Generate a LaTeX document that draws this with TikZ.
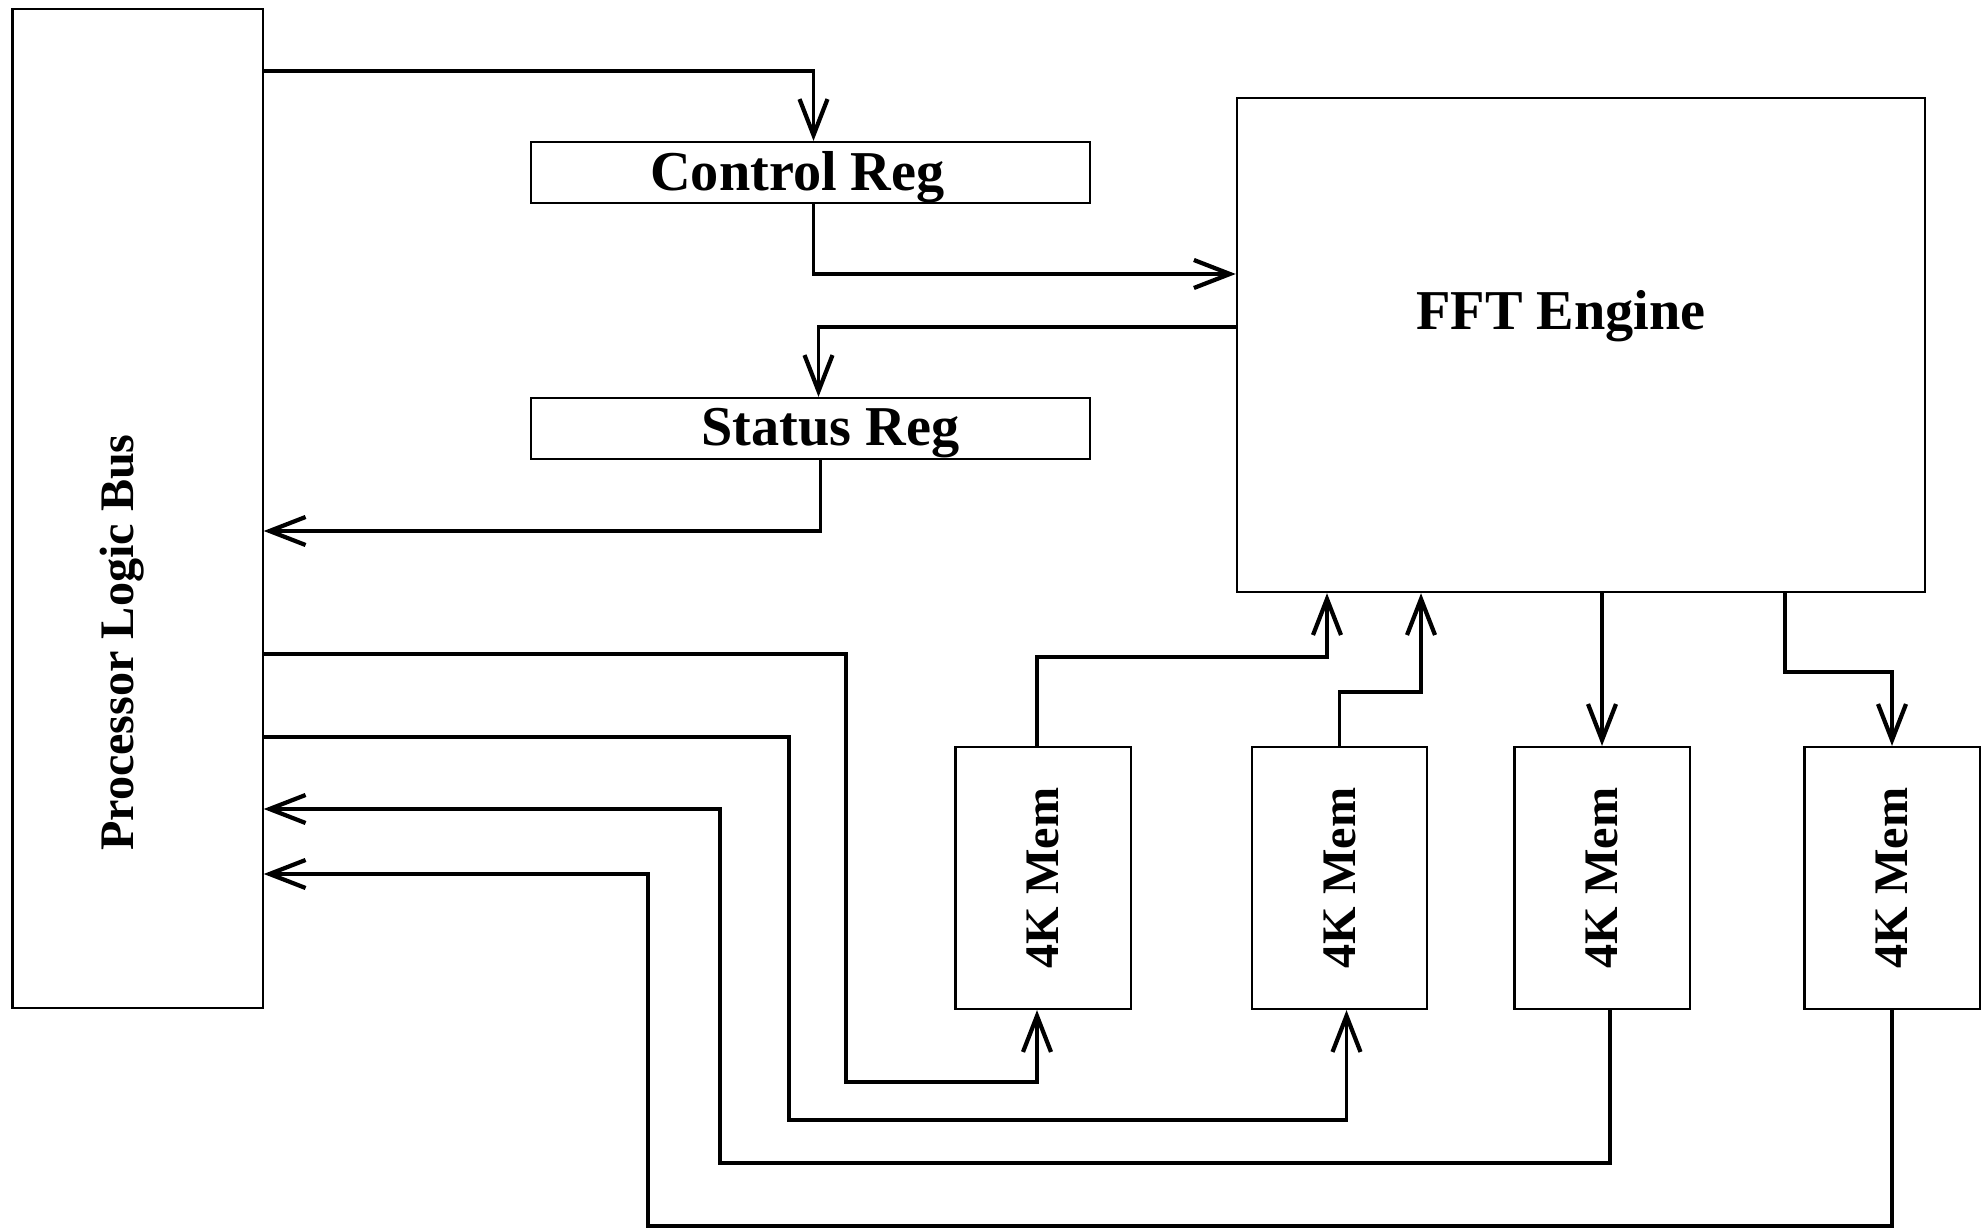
\documentclass[tikz,border=0pt]{standalone}
\usepackage{fontspec}
\setmainfont{Liberation Serif}
\usepackage{tikz}
\usetikzlibrary{arrows.meta}

\begin{document}
\begin{tikzpicture}[x=.01cm,y=-.01cm,
  box/.style={draw,line width=.6pt,inner sep=0pt},
  big/.style={font=\bfseries\fontsize{16}{19}\selectfont},
  small/.style={font=\bfseries\fontsize{13.7}{16}\selectfont},
  link/.style={line width=1.1pt,-{Straight Barb[length=.36cm,width=.28cm,line width=1.2pt]}},
  reg/.style={box,minimum width=5.59cm,minimum height=.61cm},
  mem/.style={box,minimum width=1.75cm,minimum height=2.62cm,label={[rotate=90,small]center:4K Mem}}]
\path[fill=white,use as bounding box] (0,0) rectangle (1988,1231);
\node[box,minimum width=2.5cm,minimum height=9.99cm] (bus) at (137.6,508.5) {};
\node[rotate=90,small] (buslbl) at ([xshift=-.15cm,yshift=-1.34cm]bus.center) {Processor Logic Bus};
\node[reg,label={[big,xshift=-.13cm,yshift=-.05cm]center:Control Reg}] (ctrl) at (810.5,172.5) {};
\node[reg,label={[big,xshift=.2cm,yshift=-.05cm]center:Status Reg}] (stat) at (810.5,428.5) {};
\node[box,minimum width=6.88cm,minimum height=4.94cm,label={[big,xshift=-.2cm,yshift=.29cm]center:FFT Engine}] (fft) at (1581,345) {};
\foreach \i/\x in {1/1043,2/1339.5,3/1602,4/1892}{\node[mem] (m\i) at (\x,878) {};}
% registers
\draw[link] (bus.east |- 0,71) -| ([xshift=.03cm]ctrl.north);
\draw[link] ([xshift=.03cm]ctrl.south) |- (fft.west |- 0,274);
\draw[link] (fft.west |- 0,327) -| ([xshift=.08cm]stat.north);
\draw[link] ([xshift=.1cm]stat.south) |- (bus.east |- 0,531);
% bus and memories
\draw[link] (bus.east |- 0,654) -| (846,1082) -| ([xshift=-.06cm]m1.south);
\draw[link] (bus.east |- 0,737) -| (789,1120) -| ([xshift=.07cm]m2.south);
\draw[link] ([xshift=.08cm]m3.south) |- (720,1163) |- (bus.east |- 0,809);
\draw[link] (m4.south) |- (648,1226) |- (bus.east |- 0,874);
% engine and memories
\draw[link] ([xshift=-.06cm]m1.north) |- (1327,657) -- (fft.south -| 1327,0);
\draw[link] (m2.north) |- (1421,692) -- (fft.south -| 1421,0);
\draw[link] (fft.south -| m3.north) -- (m3.north);
\draw[link] (fft.south -| 1785,0) |- (m4.north |- 0,672) -- (m4.north);
\end{tikzpicture}
\end{document}
